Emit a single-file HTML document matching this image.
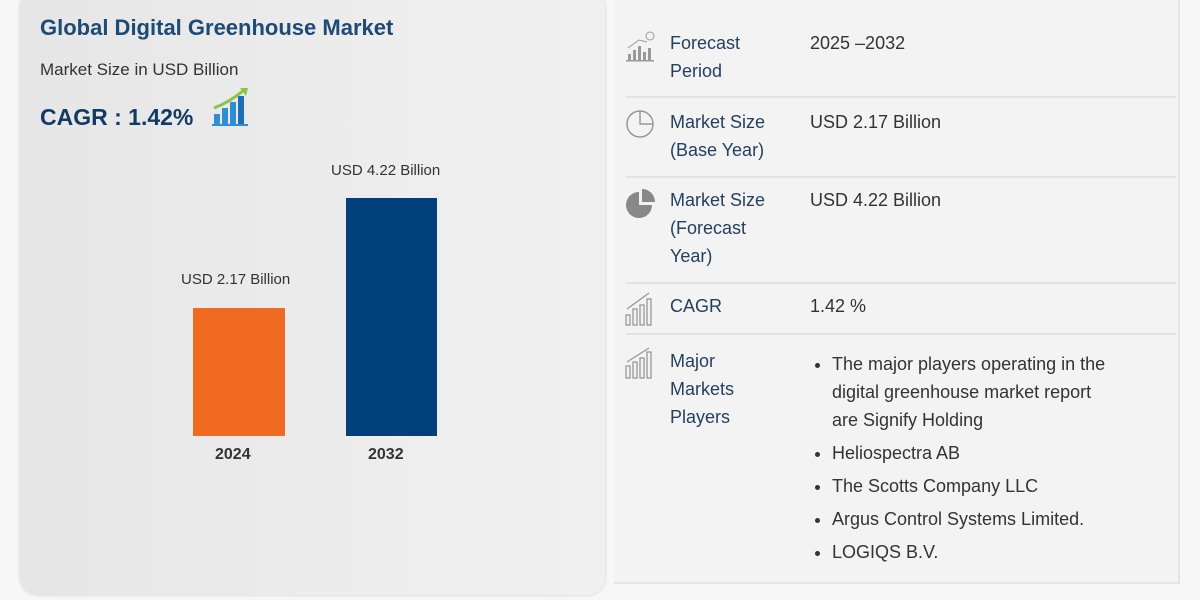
<!DOCTYPE html>
<html><head><style>
body{margin:0;width:1200px;height:600px;background:#f7f7f7;font-family:"Liberation Sans",sans-serif;position:relative;overflow:hidden}
.a{position:absolute;white-space:nowrap}
.left{position:absolute;left:20px;top:-10px;width:585px;height:605px;border-radius:18px;background:linear-gradient(90deg,#e6e6e6,#ededed 60%,#f0f0f0);box-shadow:0 0 3px #ccc}
.right{position:absolute;left:614px;top:0;width:564px;height:582px;background:#f3f3f3;border-right:2px solid #e4e4e4;border-bottom:2px solid #e4e4e4}
.lab{color:#24405f;font-size:18px;line-height:28px}
.val{color:#333;font-size:18px;line-height:28px}
.sep{position:absolute;left:626px;width:550px;height:2px;background:#e2e2e2}
.ic{position:absolute;left:625px}
li{margin:0 0 5px 0}
</style></head><body>
<div class="left"></div>
<div class="right"></div>
<div class="a" style="left:40px;top:15px;font-size:22px;font-weight:bold;color:#1d4a76">Global Digital Greenhouse Market</div>
<div class="a" style="left:40px;top:60px;font-size:17px;color:#333">Market Size in USD Billion</div>
<div class="a" style="left:40px;top:104px;font-size:23px;font-weight:bold;color:#123a66">CAGR : 1.42%</div>
<svg class="a" style="left:210px;top:86px" width="40" height="42"><rect x="4" y="28" width="6" height="10" fill="#2f8fd6"/><rect x="12" y="22" width="6" height="16" fill="#2f8fd6"/><rect x="20" y="16" width="6" height="22" fill="#2f8fd6"/><rect x="28" y="10" width="6" height="28" fill="#1f6fb4"/><path d="M4 22 Q20 16 34 4" stroke="#8bc34a" stroke-width="3" fill="none"/><path d="M30 2 L38 2 L36 10Z" fill="#8bc34a"/><rect x="2" y="38" width="36" height="2" fill="#2f8fd6"/></svg>
<div class="a" style="left:331px;top:162px;font-size:15px;color:#333">USD 4.22 Billion</div>
<div class="a" style="left:181px;top:271px;font-size:15px;color:#333">USD 2.17 Billion</div>
<div class="a" style="left:193px;top:308px;width:92px;height:128px;background:#f06a21"></div>
<div class="a" style="left:346px;top:198px;width:91px;height:238px;background:#02407c"></div>
<div class="a" style="left:215px;top:446px;font-size:16px;font-weight:bold;color:#333">2024</div>
<div class="a" style="left:368px;top:446px;font-size:16px;font-weight:bold;color:#333">2032</div>

<svg class="ic" style="top:30px" width="32" height="34"><g fill="#999"><rect x="3" y="24" width="3" height="6"/><rect x="8" y="20" width="3" height="10"/><rect x="13" y="16" width="3" height="14"/><rect x="18" y="22" width="3" height="8"/><rect x="23" y="18" width="3" height="12"/><rect x="1" y="30" width="28" height="1.5"/></g><circle cx="25" cy="6" r="4" fill="none" stroke="#999"/><path d="M3 18 L14 10 L22 12" stroke="#999" fill="none"/></svg>
<div class="a lab" style="left:670px;top:29px">Forecast<br>Period</div>
<div class="a val" style="left:810px;top:29px">2025 –2032</div>
<div class="sep" style="top:96px"></div>
<svg class="ic" style="top:108px" width="32" height="34"><circle cx="15" cy="16" r="13" fill="none" stroke="#999" stroke-width="1.5"/><path d="M15 3 V16 H28" fill="none" stroke="#999" stroke-width="1.5"/></svg>
<div class="a lab" style="left:670px;top:108px">Market Size<br>(Base Year)</div>
<div class="a val" style="left:810px;top:108px">USD 2.17 Billion</div>
<div class="sep" style="top:176px"></div>
<svg class="ic" style="top:186px" width="32" height="36"><path d="M14 6 A13 13 0 1 0 27 19 H14Z" fill="#888"/><path d="M17 3 A13 13 0 0 1 30 16 H17Z" fill="#888"/></svg>
<div class="a lab" style="left:670px;top:186px">Market Size<br>(Forecast<br>Year)</div>
<div class="a val" style="left:810px;top:186px">USD 4.22 Billion</div>
<div class="sep" style="top:282px"></div>
<svg class="ic" style="top:291px" width="32" height="36"><g fill="none" stroke="#999" stroke-width="1.3"><rect x="1" y="24" width="4" height="10"/><rect x="8" y="18" width="4" height="16"/><rect x="15" y="14" width="4" height="20"/><rect x="22" y="8" width="4" height="26"/><path d="M2 18 L24 2"/></g></svg>
<div class="a lab" style="left:670px;top:292px">CAGR</div>
<div class="a val" style="left:810px;top:292px">1.42 %</div>
<div class="sep" style="top:333px"></div>
<svg class="ic" style="top:346px" width="32" height="36"><g fill="none" stroke="#999" stroke-width="1.3"><rect x="1" y="20" width="4" height="12"/><rect x="8" y="16" width="4" height="16"/><rect x="15" y="12" width="4" height="20"/><rect x="22" y="6" width="4" height="26"/><path d="M2 16 L24 2"/></g></svg>
<div class="a lab" style="left:670px;top:347px">Major<br>Markets<br>Players</div>
<ul class="a val" style="left:790px;top:350px;margin:0;padding-left:42px;white-space:normal;width:285px;line-height:28px">
<li>The major players operating in the digital greenhouse market report are Signify Holding</li>
<li>Heliospectra AB</li>
<li>The Scotts Company LLC</li>
<li>Argus Control Systems Limited.</li>
<li>LOGIQS B.V.</li>
</ul>
</body></html>
